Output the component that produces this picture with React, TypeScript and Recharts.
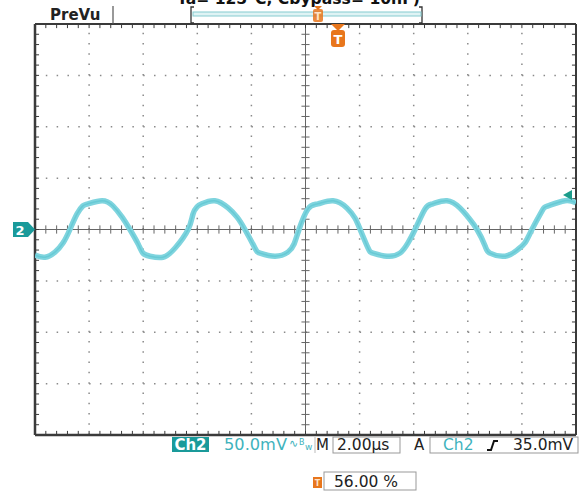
import React from 'react';
import { LineChart, Line, XAxis, YAxis, ReferenceLine } from 'recharts';

// Time base: 2.00 µs/div, 10 divisions; Ch2: 50.0 mV/div, 8 divisions
const timeUs = [0, 0.37, 0.74, 1.04, 1.29, 1.55, 1.77, 1.96, 2.48, 2.88, 3.22, 3.51, 3.81, 3.99, 4.25, 4.73, 5.18, 5.66, 5.84, 5.99, 6.17, 6.65, 7.14, 7.47, 7.76, 8.13, 8.32, 8.87, 9.35, 9.58, 9.76, 10.09, 10.46, 11.02, 11.53, 11.83, 12.02, 12.31, 12.5, 13.01, 13.49, 13.79, 14.05, 14.42, 14.71, 15.23, 15.71, 16.01, 16.34, 16.64, 16.82, 17.38, 17.82, 18.11, 18.37, 18.74, 18.97, 19.59, 20.0];
const ch2mV = [-25, -27, -22, -13, 0, 15, 23, 25, 28, 23, 12, 0, -14, -23, -26, -27, -18, 0, 15, 22, 25, 28, 21, 12, 0, -18, -23, -26, -22, -14, 0, 20, 25, 28, 21, 11, 0, -18, -23, -26, -23, -13, 0, 20, 25, 28, 21, 12, 0, -16, -23, -26, -20, -13, 0, 18, 23, 28, 26];

const xDomain = [0, 20];
const yDomain = [-200, 200];
const majorX = [2, 4, 6, 8, 12, 14, 16, 18];
const majorY = [-150, -100, -50, 50, 100, 150];
const minorX = Array.from({ length: 51 }, (_, i) => +(i * 0.4).toFixed(2));
const minorY = Array.from({ length: 41 }, (_, i) => -200 + i * 10);

const titleText = 'Ta= 125°C, Cbypass= 10nF)';
const preview = 'PreVu';
const chLabel = 'Ch2';
const voltsDiv = '50.0mV';
const timeDiv = '2.00µs';
const trigLevel = '35.0mV';
const trigPos = '56.00 %';

const data = timeUs.map((t, i) => ({ t, v: ch2mV[i] }));

const FONT = '"DejaVu Sans", Verdana, sans-serif';
const TEAL = '#1a9a9a';
const TRACE = '#7fd4de';
const ORANGE = '#e8761c';
const FRAME = '#3a3a3a';
// inward tick length, in data units (≈4 px)
const TX = 0.15;
const TY = 4;

export default function App() {
  return (
    <div style={{ position: 'absolute', left: 0, top: 0, width: 585, height: 494, background: '#fff', overflow: 'hidden' }}>
      <LineChart width={585} height={494} data={data} margin={{ top: 24, right: 9, bottom: 59, left: 35 }}>
        <XAxis xAxisId="main" type="number" dataKey="t" domain={xDomain} hide allowDataOverflow />
        <YAxis yAxisId="main" type="number" domain={yDomain} hide allowDataOverflow />

        {majorX.map((x) => (
          <ReferenceLine key={'gx' + x} xAxisId="main" yAxisId="main" x={x} stroke="#8a8a8a" strokeWidth={1.5} strokeDasharray="1.5 8.775" />
        ))}
        {majorY.map((y) => (
          <ReferenceLine key={'gy' + y} xAxisId="main" yAxisId="main" y={y} stroke="#8a8a8a" strokeWidth={1.5} strokeDasharray="1.5 9.32" />
        ))}
        <ReferenceLine xAxisId="main" yAxisId="main" x={10} stroke="#666" strokeWidth={1} />
        <ReferenceLine xAxisId="main" yAxisId="main" y={0} stroke="#666" strokeWidth={1} />
        {minorX.slice(1, -1).map((x) => (
          <ReferenceLine key={'tx' + x} xAxisId="main" yAxisId="main" segment={[{ x, y: -TY }, { x, y: TY }]} stroke="#666" strokeWidth={1} />
        ))}
        {minorY.slice(1, -1).map((y) => (
          <ReferenceLine key={'ty' + y} xAxisId="main" yAxisId="main" segment={[{ x: 10 - TX, y }, { x: 10 + TX, y }]} stroke="#666" strokeWidth={1} />
        ))}

        {/* frame ticks */}
        {minorX.slice(1, -1).map((x) => (
          <ReferenceLine key={'bt' + x} xAxisId="main" yAxisId="main" segment={[{ x, y: -200 }, { x, y: -200 + TY }]} stroke={FRAME} strokeWidth={1} />
        ))}
        {minorX.slice(1, -1).map((x) => (
          <ReferenceLine key={'tt' + x} xAxisId="main" yAxisId="main" segment={[{ x, y: 200 }, { x, y: 200 - TY }]} stroke={FRAME} strokeWidth={1} />
        ))}
        {minorY.slice(1, -1).map((y) => (
          <ReferenceLine key={'lt' + y} xAxisId="main" yAxisId="main" segment={[{ x: 0, y }, { x: TX, y }]} stroke={FRAME} strokeWidth={1} />
        ))}
        {minorY.slice(1, -1).map((y) => (
          <ReferenceLine key={'rt' + y} xAxisId="main" yAxisId="main" segment={[{ x: 20 - TX, y }, { x: 20, y }]} stroke={FRAME} strokeWidth={1} />
        ))}
        <ReferenceLine xAxisId="main" yAxisId="main" x={0} stroke={FRAME} strokeWidth={2.5} />
        <ReferenceLine xAxisId="main" yAxisId="main" x={20} stroke={FRAME} strokeWidth={2} />
        <ReferenceLine xAxisId="main" yAxisId="main" y={200} stroke={FRAME} strokeWidth={2} />
        <ReferenceLine xAxisId="main" yAxisId="main" y={-200} stroke={FRAME} strokeWidth={2.5} />

        <Line xAxisId="main" yAxisId="main" type="natural" dataKey="v" stroke={TRACE} strokeWidth={5.5} dot={false} activeDot={false} isAnimationActive={false} />
        <Line xAxisId="main" yAxisId="main" type="natural" dataKey="v" stroke="#56c3cf" strokeOpacity={0.6} strokeWidth={1.5} dot={false} activeDot={false} isAnimationActive={false} />
      </LineChart>

      <svg width={585} height={494} style={{ position: 'absolute', left: 0, top: 0, pointerEvents: 'none' }} fontFamily={FONT}>
        {/* clipped title (cut at the top edge as in the capture) */}
        <text x={177} y={4} fontSize={15} fontWeight="bold" fill="#111" textLength={243} lengthAdjust="spacingAndGlyphs">{titleText}</text>
        {/* PreVu */}
        <text x={50} y={20} fontSize={15} fontWeight="bold" fill="#222">{preview}</text>
        <line x1={113} y1={6} x2={113} y2={24} stroke="#555" strokeWidth={1.2} />
        {/* record bar */}
        <path d="M194 7 L191 7 L191 23 L194 23" fill="none" stroke="#333" strokeWidth={1.3} />
        <path d="M419 7 L422 7 L422 23 L419 23" fill="none" stroke="#333" strokeWidth={1.3} />
        <rect x={193} y={12} width={228} height={4} fill="#dff3f4" stroke="#86cbd0" strokeWidth={1} />
        <path d="M314 6 L322 6 L318 10 Z" fill={ORANGE} />
        <rect x={313} y={9} width={10} height={13} rx={2} fill={ORANGE} opacity={0.85} />
        <text x={318} y={20} fontSize={10} fontWeight="bold" fill="#fde3c8" textAnchor="middle">T</text>
        {/* trigger position marker */}
        <path d="M331 24 L345 24 L338 31 Z" fill={ORANGE} />
        <rect x={331} y={30} width={14} height={17} rx={3} fill={ORANGE} />
        <text x={338} y={44} fontSize={13} fontWeight="bold" fill="#fff" textAnchor="middle">T</text>
        {/* Ch2 ground marker */}
        <path d="M13 222 L28 222 L35 229.5 L28 237 L13 237 Z" fill={TEAL} />
        <text x={20} y={235} fontSize={13} fontWeight="bold" fill="#fff" textAnchor="middle">2</text>
        {/* trigger level marker */}
        <path d="M563 195 L572 190 L572 200 Z" fill="#1b9c8a" />
        {/* status line */}
        <rect x={172} y={437} width={37} height={15} fill={TEAL} />
        <text x={190.5} y={450} fontSize={15} fontWeight="bold" fill="#fff" textAnchor="middle">{chLabel}</text>
        <text x={224} y={450} fontSize={15.5} fill="#3fb3bd" textLength={63} lengthAdjust="spacingAndGlyphs">{voltsDiv}</text>
        <text x={289} y={447} fontSize={11} fill="#3fb3bd">∿</text>
        <text x={299} y={445} fontSize={8} fill="#3fb3bd">B</text>
        <text x={305} y={450} fontSize={9} fill="#3fb3bd">w</text>
        <line x1={315} y1={437} x2={315} y2={453} stroke="#bbb" strokeWidth={1} />
        <text x={316} y={450} fontSize={15} fill="#222">M</text>
        <rect x={333} y={437} width={67} height={16} fill="none" stroke="#999" strokeWidth={1} />
        <text x={337} y={450} fontSize={15.5} fill="#222">{timeDiv}</text>
        <text x={414} y={450} fontSize={15} fill="#222">A</text>
        <rect x={430} y={437} width={148} height={16} fill="none" stroke="#999" strokeWidth={1} />
        <text x={443} y={450} fontSize={15.5} fill="#3fb3bd">{chLabel}</text>
        <path d="M487 450 L491 450 L494 441 L498 441" fill="none" stroke="#111" strokeWidth={2} />
        <text x={513} y={450} fontSize={15.5} fill="#222">{trigLevel}</text>
        {/* trigger position */}
        <rect x={313} y={477} width={9} height={11} fill={ORANGE} />
        <text x={317.5} y={486} fontSize={8} fontWeight="bold" fill="#fde3c8" textAnchor="middle">T</text>
        <rect x={324} y={472} width={92} height={18} fill="none" stroke="#999" strokeWidth={1} />
        <text x={334} y={487} fontSize={15.5} fill="#222">{trigPos}</text>
      </svg>
    </div>
  );
}
